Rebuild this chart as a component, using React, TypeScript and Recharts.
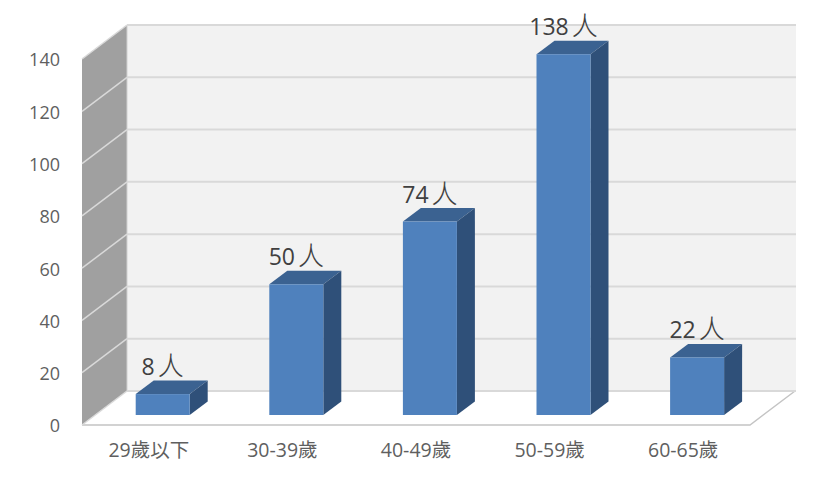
import React from "react";
import { BarChart, Bar, XAxis, YAxis, CartesianGrid, LabelList } from "recharts";

const categories = ["29歲以下", "30-39歲", "40-49歲", "50-59歲", "60-65歲"];
const counts = [8, 50, 74, 138, 22];
const yTicks = [0, 20, 40, 60, 80, 100, 120, 140];
const rows = categories.map((name, i) => ({ name, count: counts[i] }));

const W = 833, H = 482;
const L = 82, R = 750, T = 59, B = 425;
const WALL_DX = 45, WALL_DY = -34;
const BAR_DX = 13.7, BAR_DY = -10;
const DEPTH_X = 18, DEPTH_Y = -13.5;
const pts = (a: number[][]) => a.map((p) => p.join(",")).join(" ");

function Walls() {
  return (
    <svg width={W} height={H} style={{ position: "absolute", left: 0, top: 0 }}>
      <polygon points={pts([[L + WALL_DX, T + WALL_DY], [R + WALL_DX + 1, T + WALL_DY], [R + WALL_DX + 1, B + WALL_DY], [L + WALL_DX, B + WALL_DY]])} fill="#f2f2f2" />
      <polygon points={pts([[L, T], [L + WALL_DX, T + WALL_DY], [L + WALL_DX, B + WALL_DY], [L, B]])} fill="#a0a0a0" />
      <polygon points={pts([[L, B], [L + WALL_DX, B + WALL_DY], [R + WALL_DX, B + WALL_DY], [R, B]])} fill="#ffffff" />
      <polyline points={pts([[R + WALL_DX, B + WALL_DY], [R, B], [L, B]])} fill="none" stroke="#c4c4c4" strokeWidth={1.5} />
      <line x1={L + WALL_DX} x2={L + WALL_DX} y1={T + WALL_DY} y2={B + WALL_DY} stroke="#d0d0d0" strokeWidth={1} />
    </svg>
  );
}

function GridLine(props: any) {
  const { x1, x2, y1 } = props;
  return (
    <g>
      <line x1={x1} y1={y1} x2={x1 + WALL_DX} y2={y1 + WALL_DY} stroke="#d9d9d9" strokeWidth={1.5} />
      <line x1={x1 + WALL_DX} y1={y1 + WALL_DY} x2={x2 + WALL_DX + 1} y2={y1 + WALL_DY} stroke="#d9d9d9" strokeWidth={2} />
    </g>
  );
}

function Box3D(props: any) {
  const { x, y, width, height } = props;
  const x0 = x + BAR_DX, y0 = y + BAR_DY, x1 = x0 + width, y1 = y0 + height;
  return (
    <g>
      <polygon points={pts([[x0, y0], [x0 + DEPTH_X, y0 + DEPTH_Y], [x1 + DEPTH_X, y0 + DEPTH_Y], [x1, y0]])} fill="#3b6291" />
      <polygon points={pts([[x1, y0], [x1 + DEPTH_X, y0 + DEPTH_Y], [x1 + DEPTH_X, y1 + DEPTH_Y], [x1, y1]])} fill="#2f5079" />
      <rect x={x0} y={y0} width={width} height={height} fill="#4f81bd" />
    </g>
  );
}

function PersonLabel(props: any) {
  const { x, y, width, value } = props;
  return (
    <text x={x + BAR_DX + width / 2} y={y + BAR_DY - 19} textAnchor="middle" fill="#404040">
      <tspan fontFamily="'Open Sans'" fontSize={23}>{value}</tspan>
      <tspan fontFamily="'Noto Sans CJK TC'" fontSize={26} fontWeight={300} dx={3}>人</tspan>
    </text>
  );
}

export default function App() {
  return (
    <div style={{ position: "absolute", left: 0, top: 0, width: W, height: H, background: "#fff" }}>
      <Walls />
      <BarChart width={W} height={H} data={rows} margin={{ top: T, right: W - R, bottom: 0, left: 0 }} barSize={54}>
        <CartesianGrid vertical={false} horizontal={(p: any) => <GridLine key={p.key ?? p.index} {...p} />} />
        <XAxis
          dataKey="name"
          axisLine={false}
          tickLine={false}
          height={H - B}
          tickMargin={12}
          tick={{ fill: "#5f5f5f", fontSize: 19.5, fontFamily: "'Open Sans','Noto Sans CJK TC'" }}
          interval={0}
        />
        <YAxis
          width={L}
          domain={[0, 140]}
          ticks={yTicks}
          axisLine={false}
          tickLine={false}
          tickMargin={16}
          tick={{ fill: "#5f5f5f", fontSize: 18, fontFamily: "'Open Sans'", dy: 1 }}
        />
        <Bar dataKey="count" isAnimationActive={false} shape={<Box3D />}>
          <LabelList dataKey="count" content={<PersonLabel />} />
        </Bar>
      </BarChart>
    </div>
  );
}
